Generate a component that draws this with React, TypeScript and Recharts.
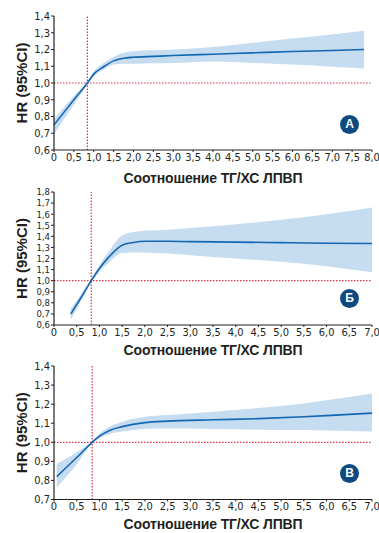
import React from "react";
import { ComposedChart, Area, Line, XAxis, YAxis, ReferenceLine } from "recharts";

// Panel A
const xA = [0, 0.5, 0.84, 1.0, 1.25, 1.5, 1.75, 2.0, 2.5, 3.0, 4.0, 5.0, 6.0, 7.0, 7.8];
const hrA = [0.75, 0.9, 1.0, 1.053, 1.097, 1.132, 1.148, 1.154, 1.159, 1.164, 1.172, 1.18, 1.188, 1.194, 1.2];
const loA = [0.695, 0.872, 0.99, 1.04, 1.08, 1.11, 1.115, 1.115, 1.118, 1.12, 1.129, 1.12, 1.11, 1.097, 1.087];
const hiA = [0.785, 0.922, 1.01, 1.07, 1.12, 1.155, 1.18, 1.19, 1.195, 1.2, 1.215, 1.24, 1.265, 1.29, 1.312];

// Panel Б
const xB = [0.37, 0.6, 0.82, 1.0, 1.2, 1.5, 1.75, 2.0, 2.5, 3.0, 4.0, 5.0, 6.0, 7.0];
const hrB = [0.7, 0.85, 1.0, 1.11, 1.21, 1.32, 1.345, 1.355, 1.355, 1.352, 1.348, 1.343, 1.338, 1.335];
const loB = [0.65, 0.82, 0.98, 1.08, 1.16, 1.25, 1.255, 1.255, 1.245, 1.23, 1.2, 1.17, 1.13, 1.075];
const hiB = [0.75, 0.88, 1.02, 1.14, 1.26, 1.41, 1.44, 1.45, 1.46, 1.475, 1.51, 1.55, 1.6, 1.66];

// Panel В
const xC = [0.06, 0.5, 0.84, 1.0, 1.25, 1.5, 2.0, 2.5, 3.5, 4.5, 5.5, 6.0, 7.0];
const hrC = [0.82, 0.92, 1.0, 1.032, 1.065, 1.082, 1.103, 1.111, 1.118, 1.124, 1.134, 1.14, 1.153];
const loC = [0.763, 0.885, 0.995, 1.02, 1.045, 1.056, 1.07, 1.072, 1.07, 1.066, 1.064, 1.062, 1.056];
const hiC = [0.887, 0.948, 1.005, 1.045, 1.085, 1.108, 1.134, 1.143, 1.16, 1.18, 1.204, 1.22, 1.256];

const xTicks8 = [0, 0.5, 1, 1.5, 2, 2.5, 3, 3.5, 4, 4.5, 5, 5.5, 6, 6.5, 7, 7.5, 8];
const xTicks7 = [0, 0.5, 1, 1.5, 2, 2.5, 3, 3.5, 4, 4.5, 5, 5.5, 6, 6.5, 7];
const yTicksA = [0.6, 0.7, 0.8, 0.9, 1.0, 1.1, 1.2, 1.3, 1.4];
const yTicksB = [0.6, 0.7, 0.8, 0.9, 1.0, 1.1, 1.2, 1.3, 1.4, 1.5, 1.6, 1.7, 1.8];
const yTicksC = [0.7, 0.8, 0.9, 1.0, 1.1, 1.2, 1.3, 1.4];

const xTitle = "Соотношение ТГ/ХС ЛПВП";
const yTitle = "HR (95%CI)";

const BLUE = "#1467b2";
const BAND = "#c6dcf0";
const RED = "#e2334f";
const INK = "#231f20";
const NARROW = "'Liberation Sans Narrow', 'DejaVu Sans Condensed', sans-serif";
const BOLD = "'Liberation Sans', Arial, sans-serif";

const fmt = (v: number) => (v === 0 ? "0" : v.toFixed(1).replace(".", ","));

const rows = (xs: number[], hr: number[], lo: number[], hi: number[]) =>
  xs.map((x, i) => ({ x, hr: hr[i], ci: [lo[i], hi[i]] }));

type PanelProps = {
  top: number;
  height: number;
  data: any[];
  xMax: number;
  xTicks: number[];
  yTicks: number[];
  yFont: number;
  refX: number;
  titleDy: number;
  badge: string;
  badgeY: number;
};

function Panel({ top, height, data, xMax, xTicks, yTicks, yFont, refX, titleDy, badge, badgeY }: PanelProps) {
  return (
    <div style={{ position: "absolute", left: 0, top }}>
      <ComposedChart width={379} height={height} data={data} margin={{ top: 16, right: 7, bottom: 0, left: 0 }}>
        <XAxis
          type="number" dataKey="x" domain={[0, xMax]} ticks={xTicks} interval={0}
          tickFormatter={fmt} height={34} tickSize={2} tickMargin={1}
          axisLine={{ stroke: INK, strokeWidth: 1.2 }} tickLine={{ stroke: INK }}
          tick={{ fontSize: 11, fill: INK, fontFamily: NARROW }}
          label={{
            content: (p: any) => {
              const vb = p.viewBox;
              return (
                <text x={vb.x + vb.width / 2} y={vb.y + titleDy} textAnchor="middle"
                      fontFamily={BOLD} fontWeight={700} fontSize={14} letterSpacing={-0.15} fill={INK}>
                  {xTitle}
                </text>
              );
            },
          }}
        />
        <YAxis
          type="number" domain={[yTicks[0], yTicks[yTicks.length - 1]]} ticks={yTicks} interval={0}
          tickFormatter={fmt} width={54} tickSize={3} tickMargin={1}
          axisLine={{ stroke: INK, strokeWidth: 1.2 }} tickLine={{ stroke: INK }}
          tick={{ fontSize: yFont, fill: INK, fontFamily: NARROW }}
          label={{
            content: (p: any) => {
              const vb = p.viewBox;
              const cy = vb.y + vb.height / 2;
              return (
                <text x={21} y={cy} transform={`rotate(-90 21 ${cy})`} textAnchor="middle"
                      dominantBaseline="central" fontFamily={BOLD} fontWeight={700} fontSize={15} fill={INK}>
                  {yTitle}
                </text>
              );
            },
          }}
        />
        <Area type="monotone" dataKey="ci" stroke="none" fill={BAND} fillOpacity={1} isAnimationActive={false} />
        <ReferenceLine y={1} stroke={RED} strokeWidth={1.2} strokeDasharray="1.5 1.5" />
        <ReferenceLine x={refX} stroke={RED} strokeWidth={1.2} strokeDasharray="1.5 1.5" />
        <Line type="monotone" dataKey="hr" stroke={BLUE} strokeWidth={1.6} dot={false} isAnimationActive={false} />
      </ComposedChart>
      <div
        style={{
          position: "absolute", left: 340, top: badgeY - top - 9.5, width: 19, height: 19, borderRadius: "50%",
          background: "#0d4a82", color: "#fff", fontFamily: BOLD, fontWeight: 700, fontSize: 12,
          lineHeight: "19px", textAlign: "center",
        }}
      >
        {badge}
      </div>
    </div>
  );
}

export default function App() {
  return (
    <div style={{ position: "absolute", left: 0, top: 0, width: 379, height: 533, background: "#fff" }}>
      <Panel top={0} height={184} data={rows(xA, hrA, loA, hiA)} xMax={8} xTicks={xTicks8} yTicks={yTicksA}
             yFont={11} refX={0.84} titleDy={32.5} badge="А" badgeY={124} />
      <Panel top={176} height={183} data={rows(xB, hrB, loB, hiB)} xMax={7} xTicks={xTicks7} yTicks={yTicksB}
             yFont={9.5} refX={0.82} titleDy={30} badge="Б" badgeY={298} />
      <Panel top={350} height={183.5} data={rows(xC, hrC, loC, hiC)} xMax={7} xTicks={xTicks7} yTicks={yTicksC}
             yFont={11} refX={0.84} titleDy={29.5} badge="В" badgeY={473} />
    </div>
  );
}
